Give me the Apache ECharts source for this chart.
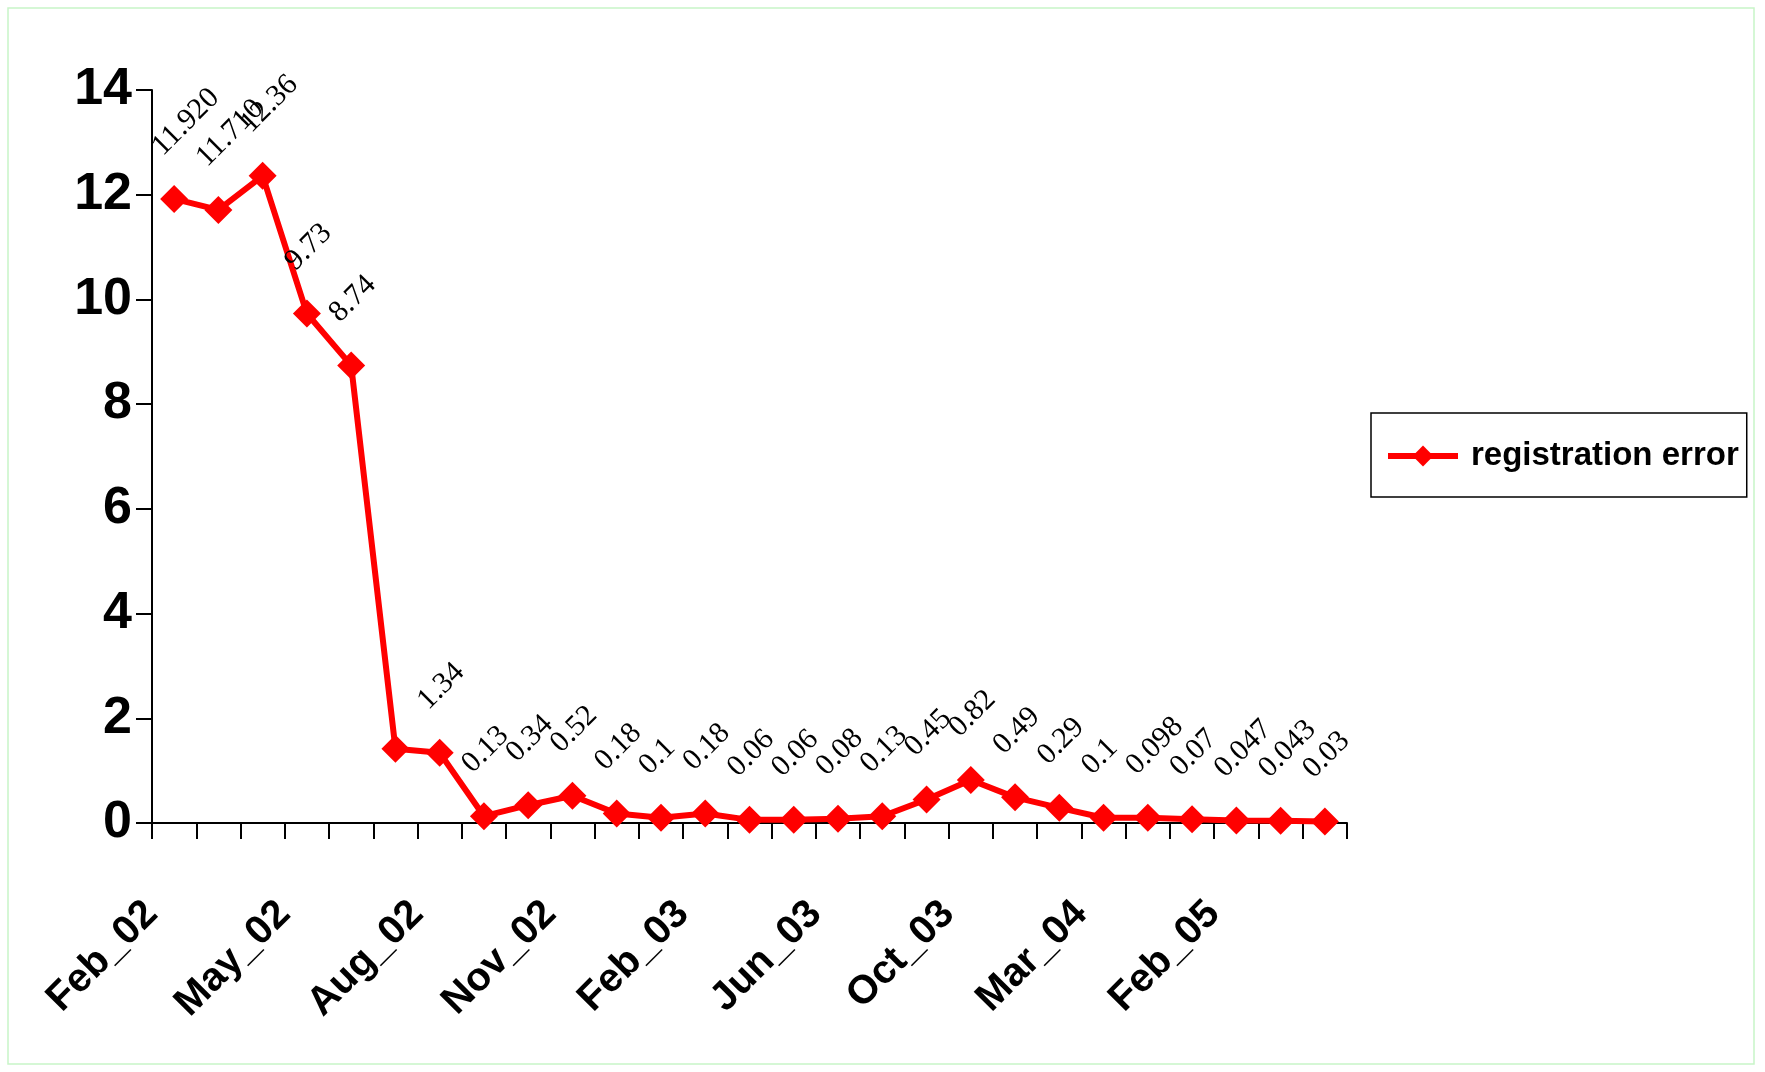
<!DOCTYPE html>
<html>
<head>
<meta charset="utf-8">
<script src="https://cdn.jsdelivr.net/npm/echarts@6/dist/echarts.min.js"></script>
<style>
html,body{margin:0;padding:0;background:#fff;}
#chart{width:1765px;height:1072px;}
</style>
</head>
<body>
<div id="chart"></div>
<script>
const categories = ['Feb_02','Mar_02','Apr_02','May_02','Jun_02','Jul_02','Aug_02','Sep_02','Oct_02','Nov_02','Dec_02','Jan_03','Feb_03','Mar_03','Apr_03','Jun_03','Jul_03','Aug_03','Oct_03','Nov_03','Jan_04','Mar_04','Apr_04','Jun_04','Feb_05','Mar_05','Apr_05'];
const values = [11.92, 11.71, 12.36, 9.73, 8.74, 1.42, 1.34, 0.13, 0.34, 0.52, 0.18, 0.1, 0.18, 0.06, 0.06, 0.08, 0.13, 0.45, 0.82, 0.49, 0.29, 0.1, 0.098, 0.07, 0.047, 0.043, 0.03];
const valueLabels = ['11.920','11.710','12.36','9.73','8.74','','1.34','0.13','0.34','0.52','0.18','0.1','0.18','0.06','0.06','0.08','0.13','0.45','0.82','0.49','0.29','0.1','0.098','0.07','0.047','0.043','0.03'];
const yTicks = {min: 0, max: 14, interval: 2};
const seriesName = 'registration error';

const chart = echarts.init(document.getElementById('chart'));
const data = values.map((v, i) => ({
  value: v,
  label: valueLabels[i] === '' ? {show: false} : {show: true}
}));
chart.setOption({
  backgroundColor: '#ffffff',
  animation: false,
  graphic: [{
    type: 'rect',
    shape: {x: 8, y: 8, width: 1746, height: 1056},
    style: {fill: 'none', stroke: '#c8f5c8', lineWidth: 1.5},
    silent: true
  }],
  grid: {left: 152, right: 418, top: 90, bottom: 249, containLabel: false},
  legend: {
    show: true,
    left: 1371,
    top: 413,
    orient: 'vertical',
    backgroundColor: '#fff',
    borderColor: '#000',
    borderWidth: 1.5,
    borderRadius: 0,
    padding: [21, 8, 19, 14],
    itemWidth: 70,
    itemHeight: 26,
    itemGap: 10,
    lineStyle: {width: 6},
    textStyle: {
      color: '#000', fontFamily: 'Liberation Sans', fontWeight: 'bold', fontSize: 33, lineHeight: 44, padding: [0,0,0,8]
    },
    data: [seriesName]
  },
  xAxis: {
    type: 'category',
    data: categories,
    boundaryGap: true,
    axisLine: {show: true, lineStyle: {color: '#000', width: 2}},
    axisTick: {show: true, interval: 0, length: 16, inside: false, lineStyle: {color: '#000', width: 2}},
    axisLabel: {
      interval: 2,
      rotate: 45,
      margin: 62,
      padding: [0, 32, 0, 0],
      color: '#000',
      fontFamily: 'Liberation Sans',
      fontWeight: 'bold',
      fontSize: 40
    },
    splitLine: {show: false}
  },
  yAxis: {
    type: 'value',
    min: yTicks.min,
    max: yTicks.max,
    interval: yTicks.interval,
    axisLine: {show: true, lineStyle: {color: '#000', width: 2}},
    axisTick: {show: true, length: 16, inside: false, lineStyle: {color: '#000', width: 2}},
    axisLabel: {
      margin: 20,
      color: '#000',
      fontFamily: 'Liberation Sans',
      fontWeight: 'bold',
      fontSize: 52
    },
    splitLine: {show: false}
  },
  series: [{
    name: seriesName,
    type: 'line',
    data: data,
    symbol: 'diamond',
    symbolSize: 28,
    showAllSymbol: true,
    lineStyle: {color: '#ff0000', width: 6},
    itemStyle: {color: '#ff0000'},
    label: {
      show: true,
      position: 'top',
      distance: 0,
      rotate: 45,
      align: 'left',
      verticalAlign: 'middle',
      color: '#000',
      fontFamily: 'Liberation Serif',
      fontSize: 30,
      formatter: p => valueLabels[p.dataIndex]
    },
    labelLayout: {hideOverlap: false, dx: 12, dy: -36}
  }]
});
</script>
</body>
</html>
